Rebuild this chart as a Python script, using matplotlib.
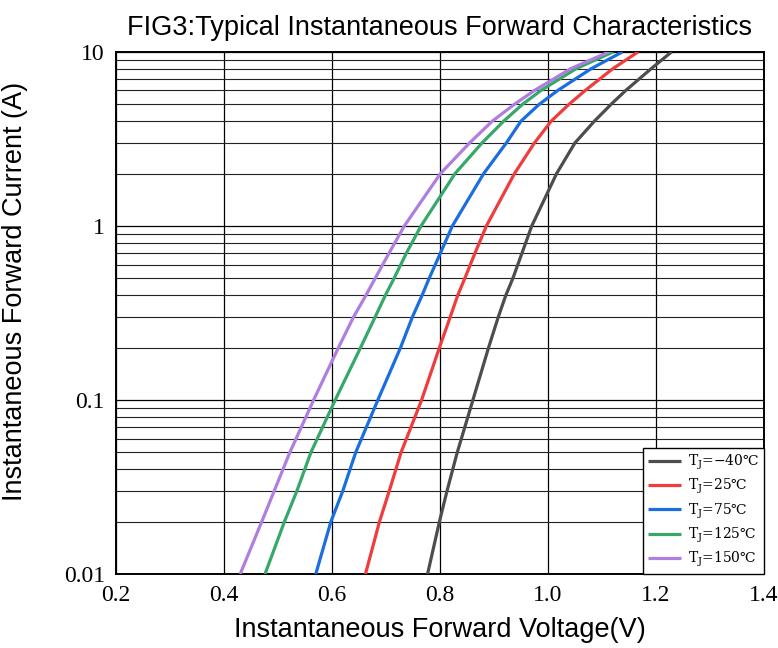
import numpy as np
import matplotlib
matplotlib.use("Agg")
import matplotlib.pyplot as plt
from matplotlib.ticker import FixedLocator, NullFormatter

# values: forward current (A) and voltage (V)
cur = [0.01, 0.02, 0.03, 0.05, 0.1, 0.2, 0.3, 0.4, 0.5, 0.7, 1, 2, 3, 4, 5, 6, 8, 10]
volt_tj_m40 = [0.777, 0.799, 0.813, 0.832, 0.861, 0.890, 0.908, 0.922, 0.935,
               0.952, 0.970, 1.016, 1.050, 1.086, 1.117, 1.144, 1.191, 1.229]
volt_tj_25 = [0.662, 0.688, 0.706, 0.728, 0.766, 0.799, 0.819, 0.833, 0.846,
              0.865, 0.886, 0.938, 0.975, 1.006, 1.039, 1.069, 1.120, 1.167]
volt_tj_75 = [0.570, 0.598, 0.620, 0.644, 0.685, 0.727, 0.749, 0.767, 0.780,
              0.801, 0.823, 0.881, 0.923, 0.950, 0.984, 1.018, 1.080, 1.138]
volt_tj_125 = [0.476, 0.512, 0.535, 0.561, 0.606, 0.653, 0.680, 0.699, 0.715,
               0.738, 0.765, 0.828, 0.878, 0.918, 0.953, 0.987, 1.052, 1.121]
volt_tj_150 = [0.430, 0.470, 0.493, 0.522, 0.566, 0.612, 0.640, 0.663, 0.680,
               0.706, 0.734, 0.801, 0.855, 0.897, 0.938, 0.975, 1.042, 1.113]

labels = ["−40", "25", "75", "125", "150"]
colors = ["#4d4d4d", "#f03c3c", "#1a6ee0", "#36a86a", "#b07de0"]

x_ticks = [0.2, 0.4, 0.6, 0.8, 1.0, 1.2, 1.4]
x_tick_labels = ["0.2", "0.4", "0.6", "0.8", "1.0", "1.2", "1.4"]
y_ticks = [0.01, 0.1, 1, 10]
y_tick_labels = ["0.01", "0.1", "1", "10"]

plt.rcParams['mathtext.fontset'] = 'dejavuserif'
serif = ['Liberation Serif', 'DejaVu Serif']
sans = ['Liberation Sans', 'DejaVu Sans']

fig = plt.figure(figsize=(7.78, 6.48), dpi=100)
ax = fig.add_axes([0.149, 0.114, 0.833, 0.806])

for v, lab, c in zip([volt_tj_m40, volt_tj_25, volt_tj_75, volt_tj_125, volt_tj_150],
                     labels, colors):
    ax.plot(v, cur, color=c, lw=2.3, solid_capstyle='butt', solid_joinstyle='round',
            label=r"T$_\mathrm{J}$=" + lab + "℃", zorder=3)

ax.set_yscale('log')
ax.set_xlim(0.2, 1.4)
ax.set_ylim(0.01, 10)

ax.set_xticks(x_ticks)
ax.set_xticklabels(x_tick_labels, family=serif, fontsize=17)
ax.yaxis.set_major_locator(FixedLocator(y_ticks))
ax.set_yticklabels(y_tick_labels, family=serif, fontsize=17)
minors = [m * d for d in [0.01, 0.1, 1] for m in range(2, 10)]
ax.yaxis.set_minor_locator(FixedLocator(minors))
ax.yaxis.set_minor_formatter(NullFormatter())
ax.tick_params(which='both', length=0, pad=8)

ax.grid(which='major', axis='both', color='black', lw=0.9)
ax.grid(which='minor', axis='y', color='#222222', lw=0.8)
for s in ax.spines.values():
    s.set_linewidth(1.4)

ax.set_title("FIG3:Typical Instantaneous Forward Characteristics",
             family=sans, fontsize=19.5, pad=12)
ax.set_xlabel("Instantaneous Forward Voltage(V)", family=sans, fontsize=19.5, labelpad=8)
ax.set_ylabel("Instantaneous Forward Current (A)", family=sans, fontsize=19.5)
ax.yaxis.set_label_coords(-0.136, 0.542)

leg = ax.legend(loc='lower right', prop={'family': 'DejaVu Serif', 'size': 10},
                fancybox=False, framealpha=1, edgecolor='black',
                borderaxespad=0, handlelength=2.4, labelspacing=0.36,
                borderpad=0.35, handletextpad=0.5)
leg.get_frame().set_linewidth(1.0)

fig.savefig("out.png", dpi=100)
